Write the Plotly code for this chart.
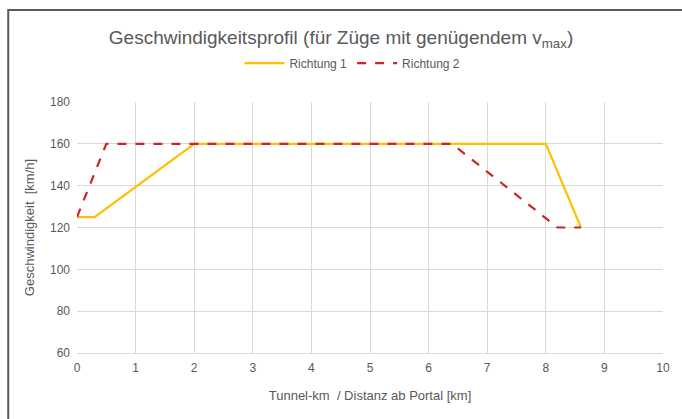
import plotly.graph_objects as go

# Speed profile along the tunnel, one polyline per direction
km_r1 = [0, 0.3, 2, 8, 8.6]
v_r1 = [125, 125, 160, 160, 120]

km_r2 = [0, 0.5, 6.4, 8.2, 8.6]
v_r2 = [125, 160, 160, 120, 120]

x_ticks = list(range(0, 11))
y_ticks = [60, 80, 100, 120, 140, 160, 180]

FONT = "Liberation Sans, Arial, sans-serif"
GREY = "#595959"

fig = go.Figure()
fig.add_trace(go.Scatter(
    x=km_r1, y=v_r1, mode="lines", name="Richtung 1",
    line=dict(color="#FFC000", width=2.2),
))
fig.add_trace(go.Scatter(
    x=km_r2, y=v_r2, mode="lines", name="Richtung 2",
    line=dict(color="#D0222A", width=2.2, dash="dash"),
))

fig.update_layout(
    width=682, height=419,
    margin=dict(l=77, r=17, t=102, b=66),
    paper_bgcolor="white", plot_bgcolor="white",
    font=dict(family=FONT, color=GREY, size=12),
    title=dict(
        text="Geschwindigkeitsprofil (für Züge mit genügendem v<sub>max</sub>)",
        x=0.5, xanchor="center", y=0.912, yanchor="middle",
        font=dict(family=FONT, size=19, color=GREY),
    ),
    legend=dict(
        orientation="h", x=0.47, xanchor="center", y=1.155, yanchor="middle",
        font=dict(family=FONT, size=12, color=GREY),
        itemwidth=40, traceorder="normal",
    ),
    xaxis=dict(
        range=[0, 10], tickvals=x_ticks, ticks="",
        showgrid=True, gridcolor="#D9D9D9", gridwidth=1,
        showline=True, linecolor="#D9D9D9", linewidth=1,
        zeroline=False, fixedrange=True, ticklabelstandoff=4,
        title=dict(text="Tunnel-km  / Distanz ab Portal [km]",
                   font=dict(family=FONT, size=13, color=GREY), standoff=16),
        tickfont=dict(family=FONT, size=12, color=GREY),
    ),
    yaxis=dict(
        range=[60, 180], tickvals=y_ticks, ticks="",
        showgrid=True, gridcolor="#D9D9D9", gridwidth=1,
        zeroline=False, fixedrange=True, ticklabelstandoff=6,
        title=dict(text="Geschwindigkeit  [km/h]",
                   font=dict(family=FONT, size=13, color=GREY), standoff=12),
        tickfont=dict(family=FONT, size=12, color=GREY),
    ),
    shapes=[
        dict(type="rect", xref="paper", yref="paper",
             x0=(8 - 77) / 588, x1=(700 - 77) / 588,
             y0=(353 - 440) / 251, y1=(353 - 10) / 251,
             line=dict(color=GREY, width=2), fillcolor="rgba(0,0,0,0)",
             layer="above"),
    ],
)

fig.write_html("out.html")
